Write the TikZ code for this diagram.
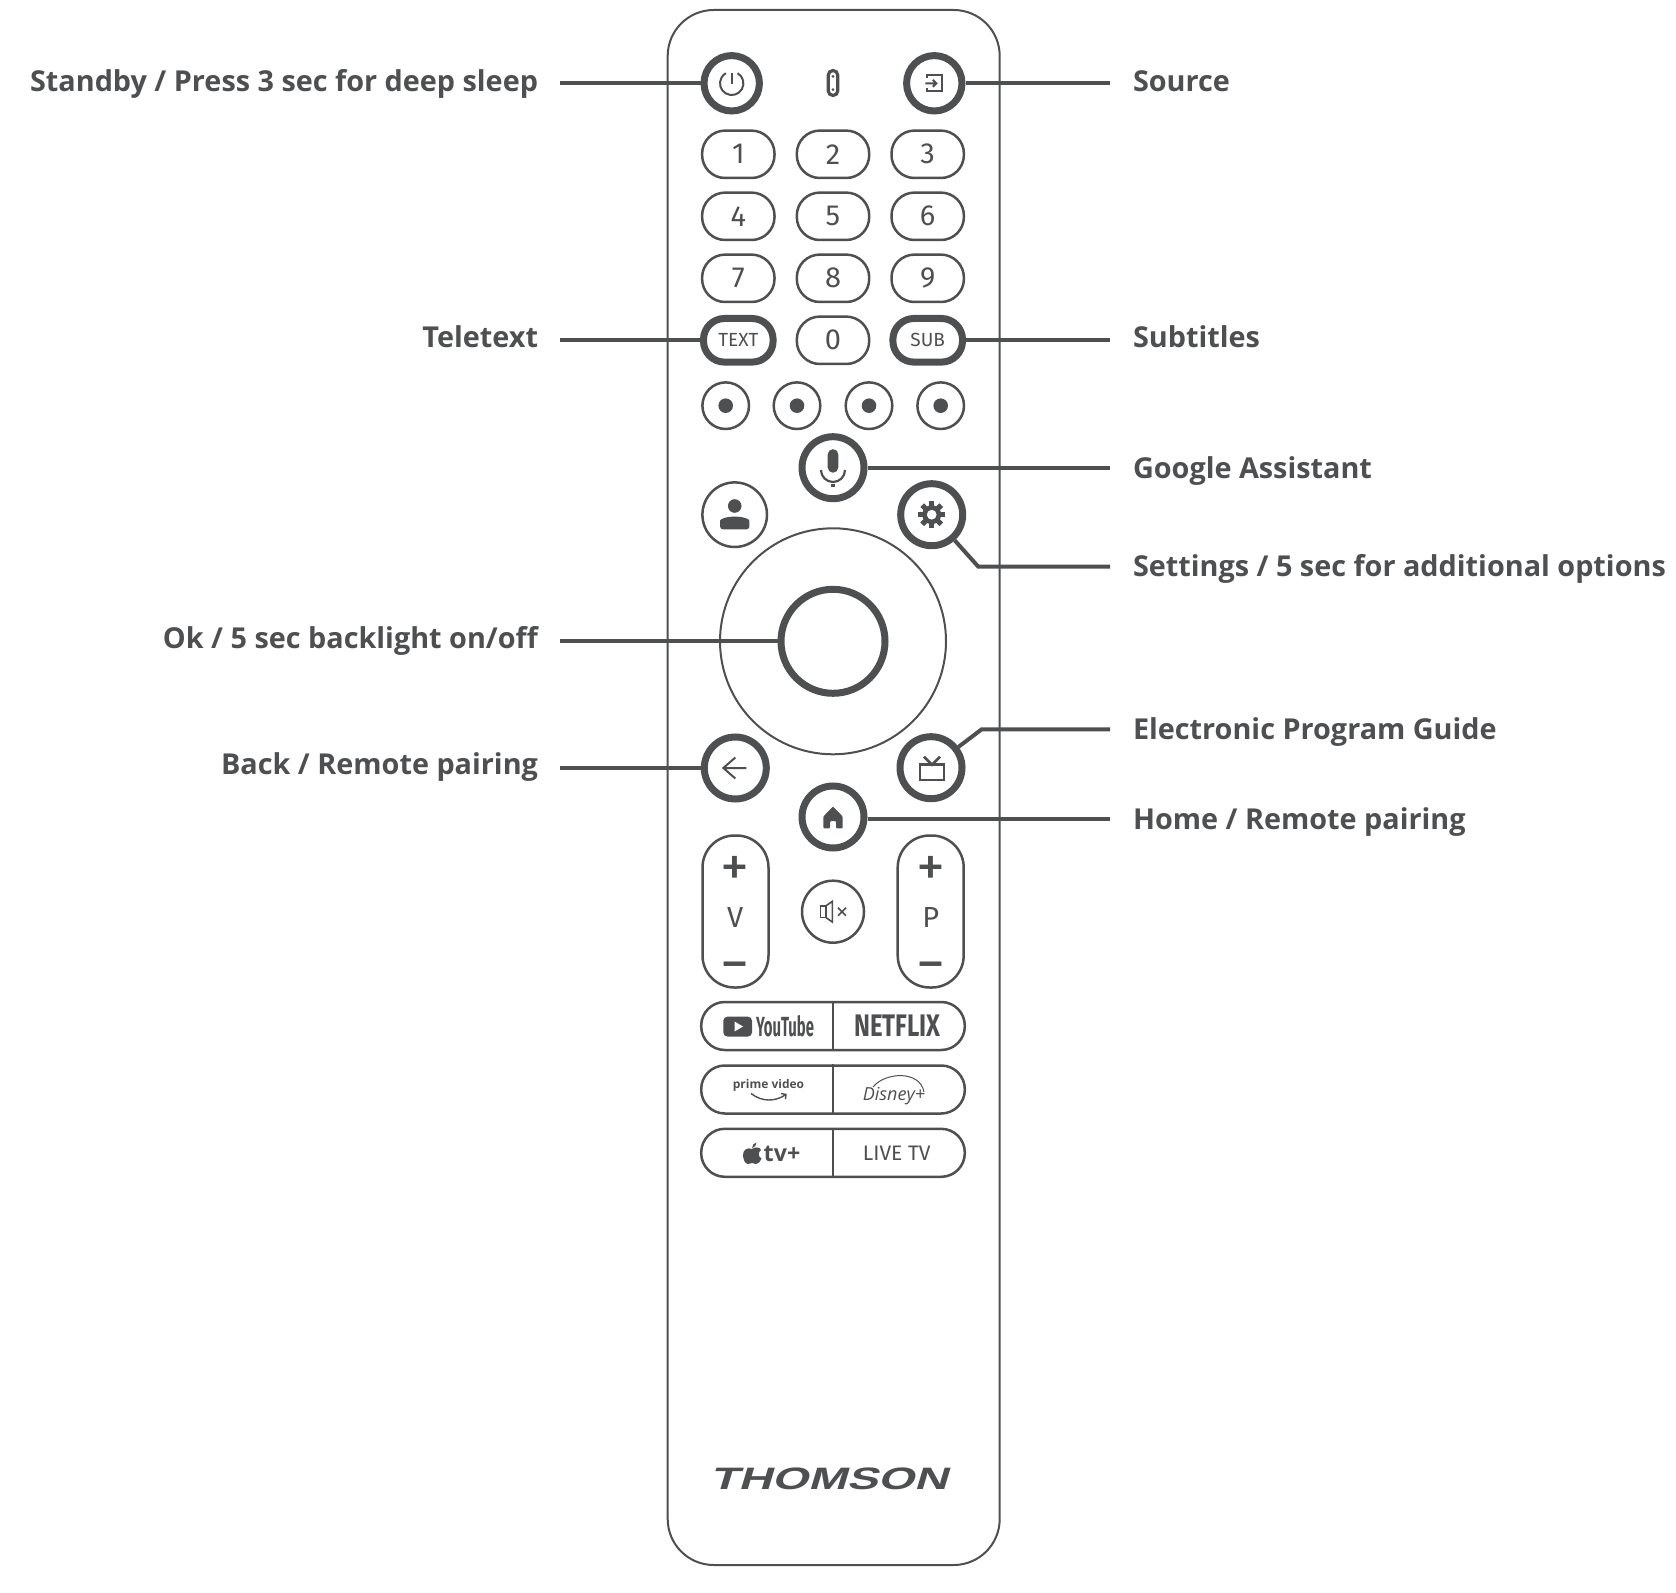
\documentclass[tikz,border=0pt]{standalone}
\usepackage{graphicx}
\usepackage{fontspec}
\usepackage{tikz}
\usetikzlibrary{arrows, positioning}
\setmainfont{Open Sans}
\newfontfamily\labelfont{Open Sans}
\newfontfamily\keyfont{Fira Sans}
\newfontfamily\brandfont[FakeSlant=0.3,FakeStretch=1.5]{Liberation Sans}
\definecolor{ink}{HTML}{4D4F51}

\tikzset{
    btn/.style={circle, draw=ink, line width=1.25pt, inner sep=0pt},
    hotbtn/.style={circle, draw=ink, line width=3.5pt, inner sep=0pt},
    keybtn/.style={rectangle, rounded corners=11.5pt, draw=ink, line width=1.25pt, minimum width=36.2pt, minimum height=23.7pt, inner sep=0pt, text=ink, font=\keyfont\fontsize{14.5}{14.5}\selectfont},
    hotkey/.style={keybtn, line width=3.5pt, minimum width=34.8pt, minimum height=21.8pt, rounded corners=10.5pt, font=\keyfont\fontsize{9.5}{9.5}\selectfont},
    rocker/.style={rectangle, rounded corners=16pt, draw=ink, line width=1.25pt, minimum width=33pt, minimum height=76pt},
    apppill/.style={rectangle, rounded corners=11.8pt, draw=ink, line width=1.25pt, minimum width=131.8pt, minimum height=24pt},
    sign/.style={text=ink, inner sep=0pt, font=\keyfont\fontsize{29}{29}\selectfont},
    leftlabel/.style={anchor=base east, inner sep=0pt, outer xsep=11pt, text=ink, font=\labelfont\bfseries\fontsize{14.4}{14.4}\selectfont},
    rightlabel/.style={anchor=base west, inner sep=0pt, outer xsep=11pt, text=ink, font=\labelfont\bfseries\fontsize{14.4}{14.4}\selectfont},
    leader/.style={draw=ink, line width=2pt},
    icon/.style={draw=ink, line width=1pt}
}

\begin{document}
\begin{tikzpicture}[x=0.5pt, y=-0.5pt, node distance=31pt]
    \useasboundingbox (0,0) rectangle (1676,1593);

    % Remote body
    \node (body) at (833.7,787.5) [rectangle, rounded corners=23pt, draw=ink, line width=1pt, minimum width=166pt, minimum height=777.5pt] {};

    % Top row
    \node (power) at (731.7,83.3) [hotbtn, minimum size=27.7pt] {};
    \node (source) at (934.3,83.3) [hotbtn, minimum size=27.7pt] {};
    \node (led) at (833,83) [rectangle, rounded corners=2.4pt, draw=ink, line width=1.6pt, minimum width=4.8pt, minimum height=12.5pt, inner sep=0pt] {};

    % Number keys
    \node (key1) at (738.3,154.3) [keybtn] {1};
    \node (key2) [right of=key1, node distance=47.35pt, keybtn] {2};
    \node (key3) [right of=key2, node distance=47.35pt, keybtn] {3};
    \node (key4) [below of=key1, keybtn] {4};
    \node (key5) [below of=key2, keybtn] {5};
    \node (key6) [below of=key3, keybtn] {6};
    \node (key7) [below of=key4, keybtn] {7};
    \node (key8) [below of=key5, keybtn] {8};
    \node (key9) [below of=key6, keybtn] {9};
    \node (text) [below of=key7, hotkey] {TEXT};
    \node (key0) [below of=key8, keybtn] {0};
    \node (sub) [below of=key9, hotkey] {SUB};

    % Colour keys
    \node (red) at (725.7,405.7) [btn, minimum size=23.3pt] {};
    \node (green) at (797,405.7) [btn, minimum size=23.3pt] {};
    \node (yellow) at (869,405.7) [btn, minimum size=23.3pt] {};
    \node (blue) at (940.7,405.7) [btn, minimum size=23.3pt] {};
    \fill[ink] (red) circle (7.3) (green) circle (7.3) (yellow) circle (7.3) (blue) circle (7.3);

    % Navigation block
    \node (mic) at (833,467.7) [hotbtn, minimum size=31pt] {};
    \node (user) at (734.7,514.7) [btn, minimum size=32.3pt] {};
    \node (gear) at (931.7,514.7) [hotbtn, minimum size=31pt] {};
    \node (dpad) at (833,641.3) [circle, draw=ink, line width=1pt, minimum size=113pt, inner sep=0pt] {};
    \node (ok) at (833,641.3) [hotbtn, minimum size=52pt] {};
    \node (back) at (735.3,768) [hotbtn, minimum size=31pt] {};
    \node (guide) at (931,767.7) [hotbtn, minimum size=31pt] {};
    \node (home) at (833,817) [hotbtn, minimum size=31pt] {};

    % Rockers and mute
    \node (vol) at (735.5,911.5) [rocker] {};
    \node (prog) at (930.7,911.5) [rocker] {};
    \node (mute) at (833,911.7) [btn, minimum size=31pt] {};
    \node (volup) at (735.3,871) [sign] {+};
    \node (volname) at (735.3,918) [text=ink, inner sep=0pt, font=\keyfont\fontsize{14.5}{14.5}\selectfont] {V};
    \node (voldown) at (735.3,973) [sign] {−};
    \node (progup) at (930.7,871) [sign] {+};
    \node (progname) at (930.7,918) [text=ink, inner sep=0pt, font=\keyfont\fontsize{14.5}{14.5}\selectfont] {P};
    \node (progdown) at (930.7,973) [sign] {−};

    % App keys
    \node (pill1) at (833,1026) [apppill] {};
    \node (pill2) at (833,1089.5) [apppill] {};
    \node (pill3) at (833,1152.8) [apppill] {};
    \draw[icon] (pill1.north) -- (pill1.south);
    \draw[icon] (pill2.north) -- (pill2.south);
    \draw[icon] (pill3.north) -- (pill3.south);
    \node (youtube) at (785,1026) [inner sep=0pt, text=ink] {\resizebox{29pt}{10.5pt}{\keyfont\bfseries YouTube}};
    \node (netflix) at (897.5,1026) [inner sep=0pt, text=ink] {\resizebox{43.2pt}{10.8pt}{\keyfont\bfseries NETFLIX}};
    \node (prime) at (768.5,1085) [inner sep=0pt, text=ink] {\resizebox{35.6pt}{!}{\labelfont\bfseries prime video}};
    \node (disney) at (894,1096) [inner sep=0pt, text=ink, font=\itshape\fontsize{9}{9}\selectfont] {Disney+};
    \node (tvplus) at (782,1154) [inner sep=0pt, text=ink] {\resizebox{18.3pt}{!}{\labelfont\bfseries tv+}};
    \node (livetv) at (896.7,1153.3) [inner sep=0pt, text=ink, font=\keyfont\fontsize{10.5}{10.5}\selectfont] {LIVE TV};
    \node (logo) at (828.5,1479) [inner sep=0pt, text=ink, font=\brandfont\bfseries\fontsize{15.5}{15.5}\selectfont] {THOMSON};

    % Icons
    \begin{scope}[shift={(power)}]
        \draw[icon] (5.85,-10.1) arc[start angle=-60, end angle=240, radius=11.7];
        \draw[icon] (0,-10) -- (0,1);
    \end{scope}
    \begin{scope}[shift={(source)}]
        \draw[icon] (-7,-5) -- (-7,-8) -- (8,-8) -- (8,8) -- (-7,8) -- (-7,5);
        \draw[icon] (-9,0) -- (2,0) (-1.5,-3.5) -- (2,0) -- (-1.5,3.5);
    \end{scope}
    \fill[ink] ([yshift=3.3pt]led) circle (1.5) ([yshift=-3.3pt]led) circle (1.5);
    \begin{scope}[shift={(mic)}]
        \fill[ink, rounded corners=2.6pt] (-5.3,-18.5) rectangle (5.3,5);
        \draw[icon, line width=1.1pt] (12,2.3) arc[start angle=0, end angle=180, radius=12];
        \fill[ink] (-1.7,16) rectangle (1.7,19.5);
    \end{scope}
    \begin{scope}[shift={(user)}]
        \fill[ink] (0,-8.7) circle (6.8);
        \fill[ink, rounded corners=1.5pt] (-14.7,14.7) -- (-14.7,9) .. controls (-14.7,4) and (-7,2) .. (0,2) .. controls (7,2) and (14.7,4) .. (14.7,9) -- (14.7,14.7) -- cycle;
    \end{scope}
    \begin{scope}[shift={(gear)}]
        \foreach \a in {0,45,...,315}
            \fill[ink, rotate=\a] (-2.6,-13.5) rectangle (2.6,-7);
        \fill[ink, even odd rule] (0,0) circle (9.5) (0,0) circle (5);
    \end{scope}
    \begin{scope}[shift={(back)}]
        \draw[icon] (11,0) -- (-12,0) (0,-10.5) -- (-12,0) -- (0,10.5);
    \end{scope}
    \begin{scope}[shift={(guide)}]
        \draw[icon, line width=1.3pt] (-11,-3) rectangle (13,12.3);
        \draw[icon, line width=1.3pt] (-7,-11) -- (1,-3) -- (9,-11);
    \end{scope}
    \begin{scope}[shift={(home)}]
        \fill[ink, rounded corners=0.5pt] (0,-10.5) -- (-9.7,-0.5) -- (-9.7,11.3) -- (-3,11.3) -- (-3,4) -- (3,4) -- (3,11.3) -- (9.7,11.3) -- (9.7,-0.5) -- cycle;
    \end{scope}
    \begin{scope}[shift={(mute)}]
        \draw[icon, line width=0.8pt] (-12.7,-5.7) rectangle (-7.3,5.7);
        \draw[icon, line width=0.8pt] (-7.3,-5.7) -- (-0.7,-10.3) -- (-0.7,10.3) -- (-7.3,5.7);
        \draw[icon, line width=0.8pt] (5,-4) -- (13,4) (5,4) -- (13,-4);
    \end{scope}

    % App logos
    \fill[ink, rounded corners=2pt] (723.3,1016.7) rectangle (752,1036.5);
    \fill[white] (734.5,1021.5) -- (743,1026.5) -- (734.5,1031.5) -- cycle;
    \draw[icon, line width=0.7pt] (751,1093.5) .. controls (762,1102) and (775,1102) .. (786,1094.5) (781,1093.5) -- (786,1094.5) -- (785.5,1099);
    \draw[icon, line width=0.5pt] (873,1087) .. controls (885,1072) and (920,1070) .. (924,1092);
    \begin{scope}[shift={(752,1154)}]
        \fill[ink] (0,-5) .. controls (3,-7.5) and (8,-7) .. (9,-4) .. controls (6,-2) and (6,3) .. (9.5,4.5) .. controls (8,8) and (6,10) .. (4,10) .. controls (2,10) and (1.5,9) .. (0,9) .. controls (-1.5,9) and (-2,10) .. (-4,10) .. controls (-7,10) and (-9,5) .. (-9,1) .. controls (-9,-4) and (-5,-7) .. (0,-5);
        \fill[ink] (0,-6) .. controls (0,-9) and (2,-11) .. (4.5,-11.5) .. controls (4.5,-8.5) and (2.5,-6.5) .. (0,-6);
    \end{scope}

    % Labels
    \node (standbytxt) at (560,92) [leftlabel] {Standby / Press 3 sec for deep sleep};
    \node (teletxt) at (560,347.4) [leftlabel] {Teletext};
    \node (oktxt) at (560,648.5) [leftlabel] {Ok / 5 sec backlight on/off};
    \node (backtxt) at (560,774.5) [leftlabel] {Back / Remote pairing};
    \node (sourcetxt) at (1111,92) [rightlabel] {Source};
    \node (subtxt) at (1111,347.4) [rightlabel] {Subtitles};
    \node (mictxt) at (1111,478.5) [rightlabel] {Google Assistant};
    \node (geartxt) at (1111,576.7) [rightlabel] {Settings / 5 sec for additional options};
    \node (guidetxt) at (1111,739.5) [rightlabel] {Electronic Program Guide};
    \node (hometxt) at (1111,829) [rightlabel] {Home / Remote pairing};

    % Connect nodes
    \coordinate (gearbend) at (978.3,566.7);
    \coordinate (guidebend) at (981.7,729.3);
    \draw[leader] (standbytxt.east |- power) -- (power);
    \draw[leader] (teletxt.east |- text) -- (text);
    \draw[leader] (oktxt.east |- ok) -- (ok);
    \draw[leader] (backtxt.east |- back) -- (back);
    \draw[leader] ([xshift=-0.5pt]sourcetxt.west |- source) -- (source);
    \draw[leader] ([xshift=-0.5pt]subtxt.west |- sub) -- (sub);
    \draw[leader] ([xshift=-0.5pt]mictxt.west |- mic) -- (mic);
    \draw[leader] ([xshift=-0.5pt]geartxt.west |- gearbend) -- (gearbend) -- (gear);
    \draw[leader] ([xshift=-0.5pt]guidetxt.west |- guidebend) -- (guidebend) -- (guide);
    \draw[leader] ([xshift=-0.5pt, yshift=-0.85pt]hometxt.west |- home) -- ([yshift=-0.85pt]home.east);
\end{tikzpicture}
\end{document}
